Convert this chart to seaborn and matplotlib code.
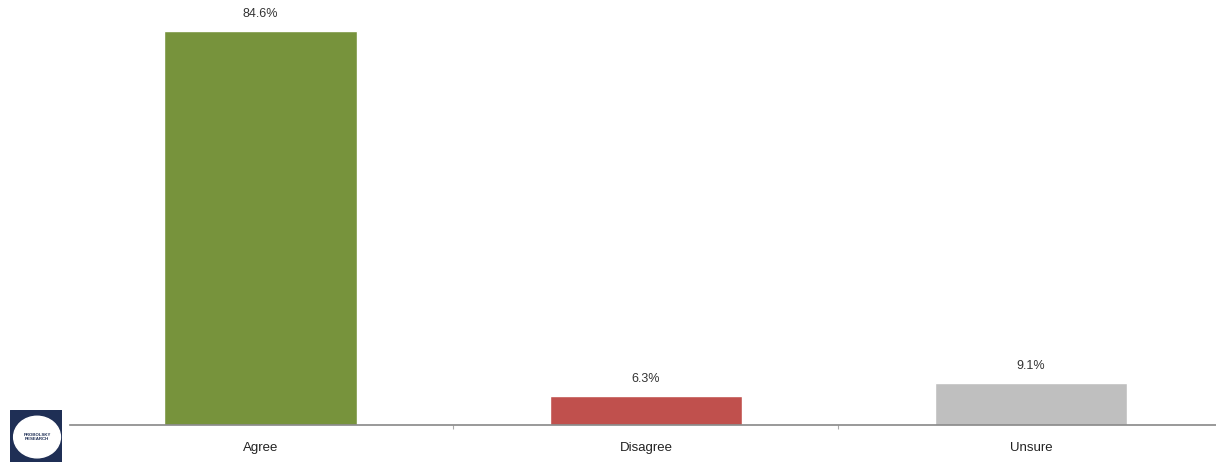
import matplotlib
matplotlib.use("Agg")
import matplotlib.pyplot as plt
import matplotlib.patches as mpatches
import seaborn as sns
import pandas as pd

categories = ["Agree", "Disagree", "Unsure"]
values = [84.6, 6.3, 9.1]
labels = ["84.6%", "6.3%", "9.1%"]
colors = ["#77933C", "#C0504D", "#BFBFBF"]

sns.set_style("white")
plt.rcParams["font.family"] = ["Liberation Sans", "DejaVu Sans"]

df = pd.DataFrame({"category": categories, "value": values})

fig = plt.figure(figsize=(12.16, 4.62), dpi=100)
ax = fig.add_axes([70 / 1216, 37 / 462, 1 - 70 / 1216, 425 / 462])

sns.barplot(data=df, x="category", y="value", hue="category", palette=colors,
            width=0.5, legend=False, ax=ax, saturation=1)

for i, (v, t) in enumerate(zip(values, labels)):
    ax.annotate(t, (i, v), xytext=(0, 12), textcoords="offset points",
                ha="center", va="center", fontsize=9, color="#333333")

ax.set_xlim(-0.495, 2.48)
ax.set_ylim(0, 91.26)
ax.set_xlabel("")
ax.set_ylabel("")
ax.set_yticks([])
for s in ["top", "right", "left"]:
    ax.spines[s].set_visible(False)
ax.spines["bottom"].set_color("#888888")
ax.spines["bottom"].set_linewidth(1.2)
ax.tick_params(axis="x", which="major", length=0, pad=12, labelsize=9.5,
               labelcolor="#222222")
ax.set_xticks([0.5, 1.5], minor=True)
ax.tick_params(axis="x", which="minor", bottom=True, length=3,
               color="#aaaaaa", width=0.8)

# Company logo in the lower-left corner
lax = fig.add_axes([10 / 1216, 0, 52 / 1216, 52 / 462])
lax.set_xlim(0, 1)
lax.set_ylim(0, 1)
lax.axis("off")
lax.add_patch(mpatches.Rectangle((0, 0), 1, 1, color="#1F2F55"))
lax.add_patch(mpatches.Ellipse((0.52, 0.48), 0.9, 0.8, color="white"))
lax.text(0.52, 0.48, "PROBOLSKY\nRESEARCH", ha="center", va="center",
         fontsize=3.2, color="#1F2F55", fontweight="bold", linespacing=1.0)

fig.savefig("out.png", dpi=100)
